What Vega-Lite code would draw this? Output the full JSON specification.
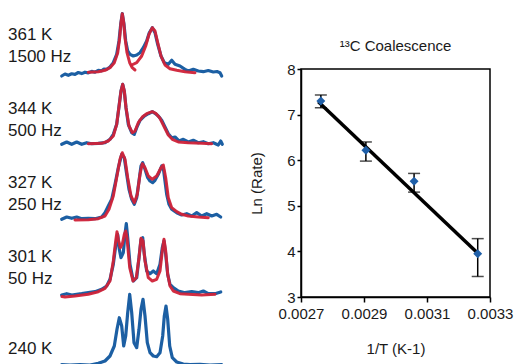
{
"$schema": "https://vega.github.io/schema/vega-lite/v6.json",
"padding": {"top": 12, "left": 0, "right": 0, "bottom": 0},
"background": "white",
"spacing": 24,
"config": {"view": {"stroke": null}, "font": "Liberation Sans"},
"hconcat": [
{
 "data": {"values": [
  {"s":1,"k":"t","t":["361 K","1500 Hz"]},
  {"s":2,"k":"t","t":["344  K","500 Hz"]},
  {"s":3,"k":"t","t":["327 K","250 Hz"]},
  {"s":4,"k":"t","t":["301 K","50 Hz"]},
  {"s":5,"k":"u","t":"240 K"},
  {"s":1,"k":"e","x":61.7,"y":-5},{"s":1,"k":"e","x":65,"y":-3},{"s":1,"k":"e","x":68.3,"y":-4.3},{"s":1,"k":"e","x":71.7,"y":-2.8},{"s":1,"k":"e","x":75,"y":-3.4},{"s":1,"k":"e","x":78.3,"y":-1.5},{"s":1,"k":"e","x":81.7,"y":-2.6},{"s":1,"k":"e","x":85,"y":-1.2},{"s":1,"k":"e","x":88.3,"y":-1.9},{"s":1,"k":"e","x":91.7,"y":-0.4},{"s":1,"k":"e","x":95,"y":-1.2},{"s":1,"k":"e","x":98.3,"y":0.6},{"s":1,"k":"e","x":101.7,"y":0.2},{"s":1,"k":"e","x":104,"y":2},{"s":1,"k":"e","x":106.7,"y":1.7},{"s":1,"k":"e","x":110,"y":4},{"s":1,"k":"e","x":113.3,"y":8.3},{"s":1,"k":"e","x":116.7,"y":16.7},{"s":1,"k":"e","x":119,"y":30},{"s":1,"k":"e","x":120.7,"y":46.7},{"s":1,"k":"e","x":122.3,"y":57.3},{"s":1,"k":"e","x":124,"y":46.7},{"s":1,"k":"e","x":125.7,"y":30},{"s":1,"k":"e","x":127.7,"y":20},{"s":1,"k":"e","x":130,"y":16.7},{"s":1,"k":"e","x":133.3,"y":15},{"s":1,"k":"e","x":136.7,"y":16},{"s":1,"k":"e","x":140,"y":18.3},{"s":1,"k":"e","x":143.3,"y":23.3},{"s":1,"k":"e","x":146.7,"y":30},{"s":1,"k":"e","x":149.3,"y":38.3},{"s":1,"k":"e","x":152.3,"y":43.3},{"s":1,"k":"e","x":155,"y":38.3},{"s":1,"k":"e","x":157.7,"y":26.7},{"s":1,"k":"e","x":161,"y":15},{"s":1,"k":"e","x":164.3,"y":8.3},{"s":1,"k":"e","x":168.3,"y":6.7},{"s":1,"k":"e","x":171.7,"y":10.7},{"s":1,"k":"e","x":175,"y":6.7},{"s":1,"k":"e","x":180,"y":5},{"s":1,"k":"e","x":185,"y":1.7},{"s":1,"k":"e","x":188.3,"y":0},{"s":1,"k":"e","x":193.3,"y":1.7},{"s":1,"k":"e","x":198.3,"y":0},{"s":1,"k":"e","x":203.3,"y":-0.7},{"s":1,"k":"e","x":208.3,"y":0.5},{"s":1,"k":"e","x":213.3,"y":-1},{"s":1,"k":"e","x":217,"y":-0.5},{"s":1,"k":"e","x":220,"y":-1.7},{"s":1,"k":"e","x":221.7,"y":-5},
  {"s":1,"k":"f","x":88.3,"y":-1.3},{"s":1,"k":"f","x":98.3,"y":-0.7},{"s":1,"k":"f","x":105,"y":0.7},{"s":1,"k":"f","x":110,"y":3.3},{"s":1,"k":"f","x":114.3,"y":8.3},{"s":1,"k":"f","x":117.7,"y":18.3},{"s":1,"k":"f","x":119.7,"y":33.3},{"s":1,"k":"f","x":121,"y":48.3},{"s":1,"k":"f","x":122.3,"y":57.3},{"s":1,"k":"f","x":123.7,"y":48.3},{"s":1,"k":"f","x":125,"y":33.3},{"s":1,"k":"f","x":127,"y":18.3},{"s":1,"k":"f","x":129.7,"y":8.3},{"s":1,"k":"f","x":132.3,"y":3.3},{"s":1,"k":"f","x":135,"y":1},
  {"s":1,"k":"g","x":131.7,"y":6},{"s":1,"k":"g","x":136.7,"y":8.3},{"s":1,"k":"g","x":141.7,"y":15},{"s":1,"k":"g","x":145.7,"y":25},{"s":1,"k":"g","x":149,"y":36.7},{"s":1,"k":"g","x":152.3,"y":43.3},{"s":1,"k":"g","x":155,"y":40},{"s":1,"k":"g","x":157.7,"y":28.3},{"s":1,"k":"g","x":161,"y":15},{"s":1,"k":"g","x":165,"y":6},{"s":1,"k":"g","x":170,"y":2.3},{"s":1,"k":"g","x":176.7,"y":0.7},{"s":1,"k":"g","x":185,"y":-0.7},{"s":1,"k":"g","x":195,"y":-1.7},
  {"s":2,"k":"e","x":61.7,"y":0.7},{"s":2,"k":"e","x":66.7,"y":3},{"s":2,"k":"e","x":71.7,"y":0.7},{"s":2,"k":"e","x":76.7,"y":3},{"s":2,"k":"e","x":81.7,"y":0.7},{"s":2,"k":"e","x":86.7,"y":2.3},{"s":2,"k":"e","x":91.7,"y":1.3},{"s":2,"k":"e","x":98.3,"y":1.7},{"s":2,"k":"e","x":105,"y":2.3},{"s":2,"k":"e","x":110,"y":5.7},{"s":2,"k":"e","x":113.3,"y":10.7},{"s":2,"k":"e","x":116.7,"y":20.7},{"s":2,"k":"e","x":119.3,"y":40.7},{"s":2,"k":"e","x":121,"y":54},{"s":2,"k":"e","x":122.7,"y":60.7},{"s":2,"k":"e","x":124.3,"y":54},{"s":2,"k":"e","x":126,"y":37.3},{"s":2,"k":"e","x":128.3,"y":20.7},{"s":2,"k":"e","x":131.7,"y":12.3},{"s":2,"k":"e","x":134.3,"y":10.7},{"s":2,"k":"e","x":136.7,"y":17.3},{"s":2,"k":"e","x":140,"y":24.7},{"s":2,"k":"e","x":144.3,"y":29},{"s":2,"k":"e","x":148.3,"y":31.3},{"s":2,"k":"e","x":152.3,"y":33.3},{"s":2,"k":"e","x":155,"y":31.7},{"s":2,"k":"e","x":158.3,"y":29},{"s":2,"k":"e","x":161.7,"y":24.7},{"s":2,"k":"e","x":165,"y":18},{"s":2,"k":"e","x":168.3,"y":11.3},{"s":2,"k":"e","x":171.7,"y":7.3},{"s":2,"k":"e","x":175,"y":8},{"s":2,"k":"e","x":179,"y":4},{"s":2,"k":"e","x":183.3,"y":5.7},{"s":2,"k":"e","x":188.3,"y":3},{"s":2,"k":"e","x":193.3,"y":4.7},{"s":2,"k":"e","x":198.3,"y":2.3},{"s":2,"k":"e","x":203.3,"y":3.3},{"s":2,"k":"e","x":208.3,"y":1.3},{"s":2,"k":"e","x":213.3,"y":2.3},{"s":2,"k":"e","x":218.3,"y":0},{"s":2,"k":"e","x":220.7,"y":4},{"s":2,"k":"e","x":222.3,"y":0.7},
  {"s":2,"k":"f","x":88.3,"y":1.3},{"s":2,"k":"f","x":101.7,"y":1.7},{"s":2,"k":"f","x":108.3,"y":4},{"s":2,"k":"f","x":113.3,"y":9},{"s":2,"k":"f","x":116.7,"y":20.7},{"s":2,"k":"f","x":119.3,"y":40.7},{"s":2,"k":"f","x":121,"y":54},{"s":2,"k":"f","x":122.7,"y":60.7},{"s":2,"k":"f","x":124.3,"y":54},{"s":2,"k":"f","x":126,"y":37.3},{"s":2,"k":"f","x":129,"y":19},{"s":2,"k":"f","x":132.3,"y":12.3},{"s":2,"k":"f","x":135,"y":14},{"s":2,"k":"f","x":138.3,"y":22.3},{"s":2,"k":"f","x":142.3,"y":28},{"s":2,"k":"f","x":146.7,"y":31.3},{"s":2,"k":"f","x":152.3,"y":33.3},{"s":2,"k":"f","x":155.7,"y":31.7},{"s":2,"k":"f","x":160,"y":26.7},{"s":2,"k":"f","x":164.3,"y":18},{"s":2,"k":"f","x":168.3,"y":10},{"s":2,"k":"f","x":172.3,"y":5.7},{"s":2,"k":"f","x":178.3,"y":3},{"s":2,"k":"f","x":188.3,"y":2.3},{"s":2,"k":"f","x":201.7,"y":1.7},{"s":2,"k":"f","x":211.7,"y":1.3},
  {"s":3,"k":"e","x":61.7,"y":-0.3},{"s":3,"k":"e","x":66.7,"y":2},{"s":3,"k":"e","x":71.7,"y":0.7},{"s":3,"k":"e","x":76.7,"y":2},{"s":3,"k":"e","x":81.7,"y":0.3},{"s":3,"k":"e","x":88.3,"y":0.7},{"s":3,"k":"e","x":95,"y":0.3},{"s":3,"k":"e","x":101.7,"y":2},{"s":3,"k":"e","x":105,"y":6.3},{"s":3,"k":"e","x":108.3,"y":13},{"s":3,"k":"e","x":111.7,"y":19.7},{"s":3,"k":"e","x":115,"y":34.7},{"s":3,"k":"e","x":118.3,"y":51.3},{"s":3,"k":"e","x":121.7,"y":64.7},{"s":3,"k":"e","x":124.3,"y":61.3},{"s":3,"k":"e","x":126.7,"y":44.7},{"s":3,"k":"e","x":129,"y":29.7},{"s":3,"k":"e","x":131.7,"y":19.7},{"s":3,"k":"e","x":134.3,"y":14.7},{"s":3,"k":"e","x":136.7,"y":21.3},{"s":3,"k":"e","x":139,"y":38},{"s":3,"k":"e","x":141,"y":53},{"s":3,"k":"e","x":142.7,"y":56.3},{"s":3,"k":"e","x":145,"y":49.7},{"s":3,"k":"e","x":147.7,"y":41.3},{"s":3,"k":"e","x":150,"y":38},{"s":3,"k":"e","x":152.7,"y":36.3},{"s":3,"k":"e","x":155,"y":38.7},{"s":3,"k":"e","x":158.3,"y":44.7},{"s":3,"k":"e","x":161.7,"y":53},{"s":3,"k":"e","x":163.3,"y":51.3},{"s":3,"k":"e","x":165,"y":38},{"s":3,"k":"e","x":166.7,"y":24.7},{"s":3,"k":"e","x":169,"y":14.7},{"s":3,"k":"e","x":171.7,"y":9.7},{"s":3,"k":"e","x":176.7,"y":6.3},{"s":3,"k":"e","x":181.7,"y":4},{"s":3,"k":"e","x":186.7,"y":5.3},{"s":3,"k":"e","x":191.7,"y":3},{"s":3,"k":"e","x":196.7,"y":6.3},{"s":3,"k":"e","x":201.7,"y":3},{"s":3,"k":"e","x":206.7,"y":5.3},{"s":3,"k":"e","x":211.7,"y":3},{"s":3,"k":"e","x":216.7,"y":4.7},{"s":3,"k":"e","x":220.7,"y":2},
  {"s":3,"k":"f","x":75,"y":-1},{"s":3,"k":"f","x":88.3,"y":-0.7},{"s":3,"k":"f","x":98.3,"y":0.3},{"s":3,"k":"f","x":105,"y":3},{"s":3,"k":"f","x":109,"y":9.7},{"s":3,"k":"f","x":113.3,"y":23},{"s":3,"k":"f","x":117.3,"y":44.7},{"s":3,"k":"f","x":120,"y":59.7},{"s":3,"k":"f","x":122.3,"y":66.3},{"s":3,"k":"f","x":125,"y":59.7},{"s":3,"k":"f","x":127.7,"y":41.3},{"s":3,"k":"f","x":131,"y":23},{"s":3,"k":"f","x":134.3,"y":16.3},{"s":3,"k":"f","x":137.3,"y":24.7},{"s":3,"k":"f","x":140,"y":44.7},{"s":3,"k":"f","x":142.3,"y":55.3},{"s":3,"k":"f","x":145,"y":51.3},{"s":3,"k":"f","x":148.3,"y":43},{"s":3,"k":"f","x":152.3,"y":39.7},{"s":3,"k":"f","x":156.7,"y":43},{"s":3,"k":"f","x":161,"y":51.3},{"s":3,"k":"f","x":163.3,"y":54},{"s":3,"k":"f","x":165.7,"y":41.3},{"s":3,"k":"f","x":168.3,"y":21.3},{"s":3,"k":"f","x":171.7,"y":11.3},{"s":3,"k":"f","x":176.7,"y":7.3},{"s":3,"k":"f","x":181.7,"y":4.7},{"s":3,"k":"f","x":188.3,"y":3},{"s":3,"k":"f","x":198.3,"y":2},{"s":3,"k":"f","x":208.3,"y":1.3},
  {"s":4,"k":"e","x":61.7,"y":-2},{"s":4,"k":"e","x":66.7,"y":-0.7},{"s":4,"k":"e","x":71.7,"y":-2},{"s":4,"k":"e","x":76.7,"y":-1.3},{"s":4,"k":"e","x":81.7,"y":-0.7},{"s":4,"k":"e","x":88.3,"y":0.3},{"s":4,"k":"e","x":95,"y":1.3},{"s":4,"k":"e","x":101.7,"y":3.7},{"s":4,"k":"e","x":106.7,"y":7},{"s":4,"k":"e","x":110,"y":13.7},{"s":4,"k":"e","x":113.3,"y":28.7},{"s":4,"k":"e","x":115.7,"y":47},{"s":4,"k":"e","x":117.7,"y":58.7},{"s":4,"k":"e","x":119.3,"y":43.7},{"s":4,"k":"e","x":121,"y":35.3},{"s":4,"k":"e","x":123.3,"y":40.3},{"s":4,"k":"e","x":125,"y":58.7},{"s":4,"k":"e","x":126.3,"y":69.3},{"s":4,"k":"e","x":127.7,"y":55.3},{"s":4,"k":"e","x":130,"y":28.7},{"s":4,"k":"e","x":133.3,"y":12},{"s":4,"k":"e","x":136.7,"y":15.3},{"s":4,"k":"e","x":139,"y":35.3},{"s":4,"k":"e","x":141,"y":53.7},{"s":4,"k":"e","x":142.7,"y":55.3},{"s":4,"k":"e","x":144.3,"y":38.7},{"s":4,"k":"e","x":146.7,"y":22},{"s":4,"k":"e","x":150,"y":19.3},{"s":4,"k":"e","x":153.3,"y":22},{"s":4,"k":"e","x":156.7,"y":19.3},{"s":4,"k":"e","x":160,"y":28.7},{"s":4,"k":"e","x":162.3,"y":45.3},{"s":4,"k":"e","x":164,"y":52},{"s":4,"k":"e","x":165.7,"y":38.7},{"s":4,"k":"e","x":167.7,"y":18.7},{"s":4,"k":"e","x":170,"y":8.7},{"s":4,"k":"e","x":173.3,"y":5.3},{"s":4,"k":"e","x":178.3,"y":2},{"s":4,"k":"e","x":185,"y":0.3},{"s":4,"k":"e","x":191.7,"y":1.3},{"s":4,"k":"e","x":198.3,"y":0.3},{"s":4,"k":"e","x":203.3,"y":2},{"s":4,"k":"e","x":208.3,"y":-0.7},{"s":4,"k":"e","x":215,"y":-0.7},{"s":4,"k":"e","x":220.7,"y":1},
  {"s":4,"k":"f","x":62,"y":-3.5},{"s":4,"k":"f","x":65,"y":-4},{"s":4,"k":"f","x":75,"y":-3},{"s":4,"k":"f","x":88.3,"y":-1.3},{"s":4,"k":"f","x":98.3,"y":1.3},{"s":4,"k":"f","x":105,"y":4.7},{"s":4,"k":"f","x":110,"y":12},{"s":4,"k":"f","x":113.3,"y":32},{"s":4,"k":"f","x":115.7,"y":52},{"s":4,"k":"f","x":117,"y":61.3},{"s":4,"k":"f","x":118.3,"y":53.7},{"s":4,"k":"f","x":120.3,"y":45.3},{"s":4,"k":"f","x":122.3,"y":48.7},{"s":4,"k":"f","x":124.3,"y":58.7},{"s":4,"k":"f","x":125.7,"y":62},{"s":4,"k":"f","x":127,"y":55.3},{"s":4,"k":"f","x":129.7,"y":25.3},{"s":4,"k":"f","x":133,"y":12},{"s":4,"k":"f","x":136.3,"y":15.3},{"s":4,"k":"f","x":139,"y":35.3},{"s":4,"k":"f","x":141,"y":54.7},{"s":4,"k":"f","x":143,"y":52},{"s":4,"k":"f","x":145,"y":32},{"s":4,"k":"f","x":148.3,"y":15.3},{"s":4,"k":"f","x":152.3,"y":12},{"s":4,"k":"f","x":156.7,"y":13.7},{"s":4,"k":"f","x":160,"y":22},{"s":4,"k":"f","x":162.3,"y":42},{"s":4,"k":"f","x":164,"y":53.7},{"s":4,"k":"f","x":165.7,"y":42},{"s":4,"k":"f","x":167.7,"y":18.7},{"s":4,"k":"f","x":170,"y":7},{"s":4,"k":"f","x":173.3,"y":2},{"s":4,"k":"f","x":180,"y":-0.7},{"s":4,"k":"f","x":188.3,"y":-1.3},{"s":4,"k":"f","x":201.7,"y":-2},{"s":4,"k":"f","x":215,"y":-1.3},
  {"s":5,"k":"e","x":61.7,"y":2.3},{"s":5,"k":"e","x":70,"y":1.8},{"s":5,"k":"e","x":80,"y":2.5},{"s":5,"k":"e","x":90,"y":2},{"s":5,"k":"e","x":98.3,"y":3.7},{"s":5,"k":"e","x":105,"y":6},{"s":5,"k":"e","x":110,"y":11},{"s":5,"k":"e","x":114.3,"y":21},{"s":5,"k":"e","x":117,"y":37.7},{"s":5,"k":"e","x":119.3,"y":49.3},{"s":5,"k":"e","x":121.7,"y":41},{"s":5,"k":"e","x":123.7,"y":21},{"s":5,"k":"e","x":125.7,"y":31},{"s":5,"k":"e","x":127.7,"y":54.3},{"s":5,"k":"e","x":129.7,"y":72.7},{"s":5,"k":"e","x":131.7,"y":54.3},{"s":5,"k":"e","x":134,"y":24.3},{"s":5,"k":"e","x":136.7,"y":19.3},{"s":5,"k":"e","x":139,"y":37.7},{"s":5,"k":"e","x":141,"y":57.7},{"s":5,"k":"e","x":143,"y":67.7},{"s":5,"k":"e","x":145,"y":51},{"s":5,"k":"e","x":147.3,"y":24.3},{"s":5,"k":"e","x":150,"y":14.3},{"s":5,"k":"e","x":153.3,"y":11},{"s":5,"k":"e","x":156.7,"y":10.3},{"s":5,"k":"e","x":160,"y":14.3},{"s":5,"k":"e","x":162.7,"y":31},{"s":5,"k":"e","x":164.3,"y":51},{"s":5,"k":"e","x":166,"y":61},{"s":5,"k":"e","x":167.7,"y":47.7},{"s":5,"k":"e","x":169.7,"y":21},{"s":5,"k":"e","x":172.3,"y":9.3},{"s":5,"k":"e","x":176.7,"y":5},{"s":5,"k":"e","x":183.3,"y":3},{"s":5,"k":"e","x":190,"y":2.3},{"s":5,"k":"e","x":200,"y":2.7},{"s":5,"k":"e","x":210,"y":2},{"s":5,"k":"e","x":221.7,"y":2.3}
 ]},
 "facet": {"row": {"field": "s", "type": "ordinal", "header": null}},
 "spacing": 6,
 "bounds": "flush",
 "spec": {
  "width": 222,
  "height": 68,
  "layer": [
   {
    "transform": [{"filter": "datum.k == 'e'"}],
    "mark": {"type": "line", "color": "#1c5fa3", "strokeWidth": 3.2, "strokeJoin": "round", "strokeCap": "round"},
    "encoding": {
     "x": {"field": "x", "type": "quantitative", "scale": {"domain": [0, 222], "nice": false, "zero": false}, "axis": null},
     "y": {"field": "y", "type": "quantitative", "scale": {"domain": [-66, 2], "nice": false, "zero": false}, "axis": null}
    }
   },
   {
    "transform": [{"filter": "datum.k == 'f' || datum.k == 'g'"}],
    "mark": {"type": "line", "color": "#d02238", "strokeWidth": 3, "strokeJoin": "round", "strokeCap": "round", "opacity": 0.95},
    "encoding": {
     "x": {"field": "x", "type": "quantitative"},
     "y": {"field": "y", "type": "quantitative"},
     "detail": {"field": "k"}
    }
   },
   {
    "transform": [{"filter": "datum.k == 't'"}],
    "mark": {"type": "text", "align": "left", "baseline": "bottom", "fontSize": 17, "lineHeight": 22, "color": "#1a1a1a", "font": "Liberation Sans"},
    "encoding": {
     "x": {"datum": 8, "type": "quantitative"},
     "y": {"datum": 27, "type": "quantitative"},
     "text": {"field": "t"}
    }
   },
   {
    "transform": [{"filter": "datum.k == 'u'"}],
    "mark": {"type": "text", "align": "left", "baseline": "bottom", "fontSize": 17, "color": "#1a1a1a", "font": "Liberation Sans"},
    "encoding": {
     "x": {"datum": 8, "type": "quantitative"},
     "y": {"datum": 9, "type": "quantitative"},
     "text": {"field": "t"}
    }
   }
  ]
 }
},
{
 "width": 189,
 "height": 228,
 "view": {"stroke": "black", "strokeWidth": 1.5},
 "title": {"text": "¹³C Coalescence", "fontSize": 15, "fontWeight": "normal", "font": "Liberation Sans", "color": "#1a1a1a", "offset": 8},
 "data": {"values": [
  {"x": 0.002763, "v": 7.30, "lo": 7.15, "hi": 7.43},
  {"x": 0.002906, "v": 6.22, "lo": 5.98, "hi": 6.40},
  {"x": 0.003059, "v": 5.54, "lo": 5.30, "hi": 5.71},
  {"x": 0.003261, "v": 3.95, "lo": 3.45, "hi": 4.28}
 ]},
 "encoding": {
  "x": {"field": "x", "type": "quantitative",
   "scale": {"domain": [0.0027, 0.0033], "nice": false, "zero": false},
   "axis": {"values": [0.0027, 0.0029, 0.0031, 0.0033], "format": ".4f", "title": "1/T (K-1)", "grid": false,
    "labelFontSize": 15, "titleFontSize": 15, "titleFontWeight": "normal", "labelFont": "Liberation Sans", "titleFont": "Liberation Sans",
    "labelColor": "#1a1a1a", "titleColor": "#1a1a1a", "domainColor": "black", "domainWidth": 1.5, "tickColor": "black", "tickWidth": 1.5, "tickSize": 5,
    "labelPadding": 4, "titlePadding": 20, "labelFlush": false, "labelOverlap": false}}
 },
 "layer": [
  {
   "data": {"values": [{"x": 0.002755, "fit": 7.28}, {"x": 0.003263, "fit": 3.95}]},
   "mark": {"type": "line", "color": "black", "strokeWidth": 3.5},
   "encoding": {
    "y": {"field": "fit", "type": "quantitative"}
   }
  },
  {
   "mark": {"type": "rule", "color": "black", "strokeWidth": 1.5},
   "encoding": {
    "y": {"field": "lo", "type": "quantitative",
     "scale": {"domain": [3, 8], "nice": false, "zero": false},
     "axis": {"values": [3, 3.5, 4, 4.5, 5, 5.5, 6, 6.5, 7, 7.5, 8], "format": ".1~f", "title": "Ln (Rate)", "grid": false,
      "labelFontSize": 15, "titleFontSize": 15, "titleFontWeight": "normal", "labelFont": "Liberation Sans", "titleFont": "Liberation Sans",
      "labelColor": "#1a1a1a", "titleColor": "#1a1a1a", "domainColor": "black", "domainWidth": 1.5, "tickColor": "black", "tickWidth": 1.5, "tickSize": 4,
      "labelPadding": 2, "titlePadding": 22, "labelOverlap": false, "labelFlush": false}},
    "y2": {"field": "hi"}
   }
  },
  {
   "mark": {"type": "tick", "orient": "horizontal", "color": "black", "size": 12, "thickness": 1.5},
   "encoding": {"y": {"field": "lo", "type": "quantitative"}}
  },
  {
   "mark": {"type": "tick", "orient": "horizontal", "color": "black", "size": 12, "thickness": 1.5},
   "encoding": {"y": {"field": "hi", "type": "quantitative"}}
  },
  {
   "mark": {"type": "point", "shape": "diamond", "filled": true, "color": "#1f5fa8", "size": 80, "opacity": 1},
   "encoding": {"y": {"field": "v", "type": "quantitative"}}
  }
 ]
}
]
}
